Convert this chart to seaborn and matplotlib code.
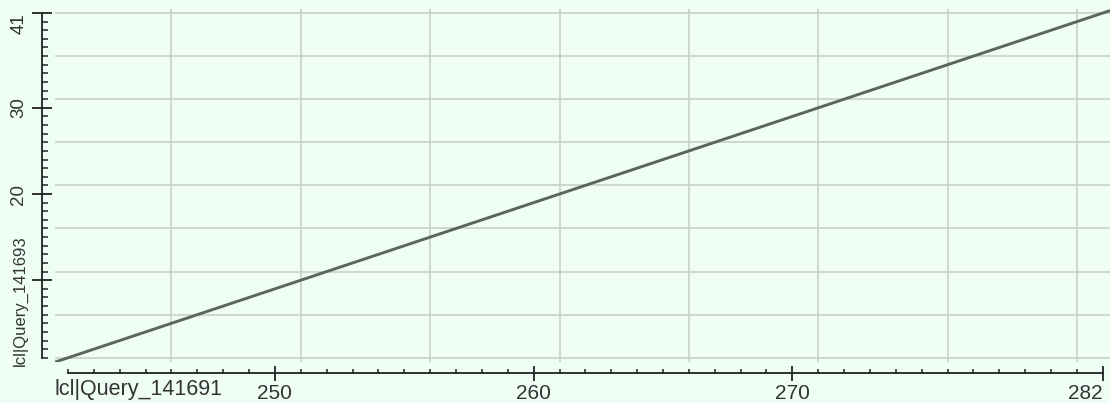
import numpy as np
import pandas as pd
import matplotlib
matplotlib.use("Agg")
import matplotlib.pyplot as plt
import seaborn as sns

# Sequence identifiers
x_name = "lcl|Query_141691"
y_name = "lcl|Query_141693"

# Diagonal match segment (residue coordinates)
match_x = [241.5, 282.5]
match_y = [0.5, 41.5]

# Axis ranges and labelled ticks
x_range = (242, 282)
y_range = (1, 41)
x_major = [250, 260, 270, 282]
x_major_labels = ["250", "260", "270", "282"]
y_major = [10, 20, 30, 41]
y_major_labels = ["", "20", "30", "41"]

# Grid lines every 5 residues
x_grid = list(range(246, 282, 5))
y_grid = list(range(1, 42, 5))

BG = "#EFFEF4"
GRID = "#C6CCC6"
LINE = "#5A665B"
AXIS = "#222222"
TEXT = "#333333"

sns.set_theme(style="ticks")
plt.rcParams["font.family"] = ["Liberation Sans", "DejaVu Sans"]

W, H = 1110, 403
fig = plt.figure(figsize=(W / 100, H / 100), dpi=100, facecolor=BG)

# plot area in pixels
left_px, right_px = 55.0, 1115.75
top_px, bottom_px = 8.7, 362.1
ax = fig.add_axes([left_px / W, 1 - bottom_px / H,
                   (right_px - left_px) / W, (bottom_px - top_px) / H])
ax.set_facecolor(BG)
ax.set_xlim(match_x[0], match_x[1])
ax.set_ylim(match_y[0], match_y[1])

for gx in x_grid:
    ax.axvline(gx, color=GRID, lw=1.1, zorder=1)
for gy in y_grid:
    ax.axhline(gy, color=GRID, lw=1.1, zorder=1)

df = pd.DataFrame({"x": match_x, "y": match_y})
sns.lineplot(data=df, x="x", y="y", ax=ax, color=LINE, lw=2.1, zorder=3,
             clip_on=True)

ax.set_xlabel("")
ax.set_ylabel("")

for s in ("top", "right"):
    ax.spines[s].set_visible(False)
ax.spines["left"].set_position(("outward", 13 * 0.72))
ax.spines["bottom"].set_position(("outward", 11 * 0.72))
ax.spines["left"].set_bounds(*y_range)
ax.spines["bottom"].set_bounds(*x_range)
for s in ("left", "bottom"):
    ax.spines[s].set_color(AXIS)
    ax.spines[s].set_linewidth(1.3)
    ax.spines[s].set_clip_on(False)

ax.set_xticks(x_major)
ax.set_xticklabels(x_major_labels)
ax.set_xticks(list(range(x_range[0], x_range[1] + 1)), minor=True)
ax.set_yticks(y_major)
ax.set_yticklabels(y_major_labels)
ax.set_yticks(list(range(y_range[0], y_range[1] + 1)), minor=True)

ax.tick_params(axis="x", which="major", direction="inout", length=10.8,
               width=1.3, color=AXIS, pad=2.5, labelsize=15, labelcolor=TEXT)
ax.tick_params(axis="x", which="minor", direction="in", length=3.0,
               width=1.1, color=AXIS)
ax.tick_params(axis="y", which="major", direction="inout", length=15,
               width=1.3, color=AXIS, pad=3, labelsize=13.5, labelcolor=TEXT,
               labelrotation=90)
ax.tick_params(axis="y", which="minor", direction="in", length=4.5,
               width=1.1, color=AXIS)

for lab in ax.get_yticklabels():
    lab.set_verticalalignment("center")
ax.get_yticklabels()[-1].set_verticalalignment("top")
ax.get_xticklabels()[-1].set_horizontalalignment("right")

fig.text(55 / W, 1 - 395 / H, x_name, ha="left", va="baseline",
         fontsize=15.5, color=TEXT)
fig.text(20 / W, 1 - 366 / H, y_name, ha="center", va="bottom",
         rotation=90, fontsize=12, color=TEXT)

fig.savefig("out.png", dpi=100, facecolor=BG)
